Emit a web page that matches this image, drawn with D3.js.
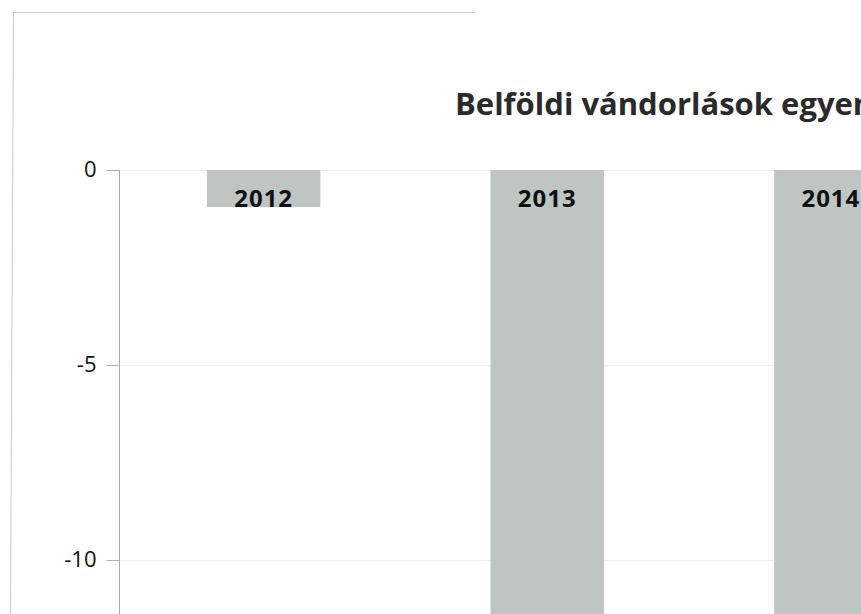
<!DOCTYPE html>
<html><head><meta charset="utf-8">
<script src="https://cdn.jsdelivr.net/npm/d3@7"></script>
<style>html,body{margin:0;padding:0;background:#fff;overflow:hidden}</style>
</head><body>
<svg id="c" width="861" height="614"></svg>
<script>
const titleText = "Belföldi vándorlások egyenlege";
const categories = ["2012", "2013", "2014"];
const values = [-0.95, -13.0, -12.5];
const yTicks = [0, -5, -10];

const svg = d3.select("#c");
const x0 = 119, yZero = 170, pxPerUnit = 39;
const x = d3.scaleBand().domain(categories).range([x0, x0 + 285.5 * categories.length]).paddingInner(0.6).paddingOuter(0.31);
const y = d3.scaleLinear().domain([0, -11.4]).range([yZero, yZero + 11.4 * pxPerUnit]);

// outer frame
svg.append("line").attr("x1", 13).attr("x2", 475).attr("y1", 12.5).attr("y2", 12.5).attr("stroke", "#cfcfcf");
svg.append("line").attr("x1", 13.5).attr("x2", 10.5).attr("y1", 12).attr("y2", 614).attr("stroke", "#c8c8c8");

// gridlines
svg.append("g").selectAll("line").data(yTicks).join("line")
  .attr("x1", x0).attr("x2", 861).attr("y1", d => Math.round(y(d)) + 0.5).attr("y2", d => Math.round(y(d)) + 0.5)
  .attr("stroke", "#f0f0f0");

// bars
svg.append("g").selectAll("rect").data(categories).join("rect")
  .attr("x", d => x(d)).attr("width", x.bandwidth())
  .attr("y", (d, i) => y(Math.max(0, values[i])))
  .attr("height", (d, i) => Math.abs(y(values[i]) - y(0)))
  .attr("fill", "#bfc5c2");

// y axis
const yAxis = d3.axisLeft(y).tickValues(yTicks).tickSize(13).tickPadding(10).tickFormat(d => String(d));
const ga = svg.append("g").attr("transform", `translate(${x0 + 0.5},0)`).call(yAxis);
ga.select(".domain").attr("stroke", "#a8a8a8").attr("d", `M-13,${yZero + 0.5}H0V614`);
ga.selectAll(".tick line").attr("stroke", "#b0b0b0");
ga.selectAll(".tick text").attr("font-family", "Open Sans, sans-serif").attr("font-size", 22).attr("fill", "#111").attr("dy", "0.3em");
ga.selectAll(".tick").filter(d => d === 0).select("line").remove();

// category labels near zero line
svg.append("g").selectAll("text").data(categories).join("text")
  .attr("x", d => x(d) + x.bandwidth() / 2).attr("y", 207)
  .attr("text-anchor", "middle")
  .attr("font-family", "Open Sans, sans-serif").attr("font-weight", "bold").attr("font-size", 24)
  .attr("letter-spacing", "1px")
  .attr("fill", "#111").text(d => d);

// title
svg.append("text").attr("x", 455).attr("y", 115)
  .attr("font-family", "Open Sans, sans-serif").attr("font-weight", "bold").attr("font-size", 31)
  .attr("fill", "#2a2a2a").text(titleText);
</script>
</body></html>
